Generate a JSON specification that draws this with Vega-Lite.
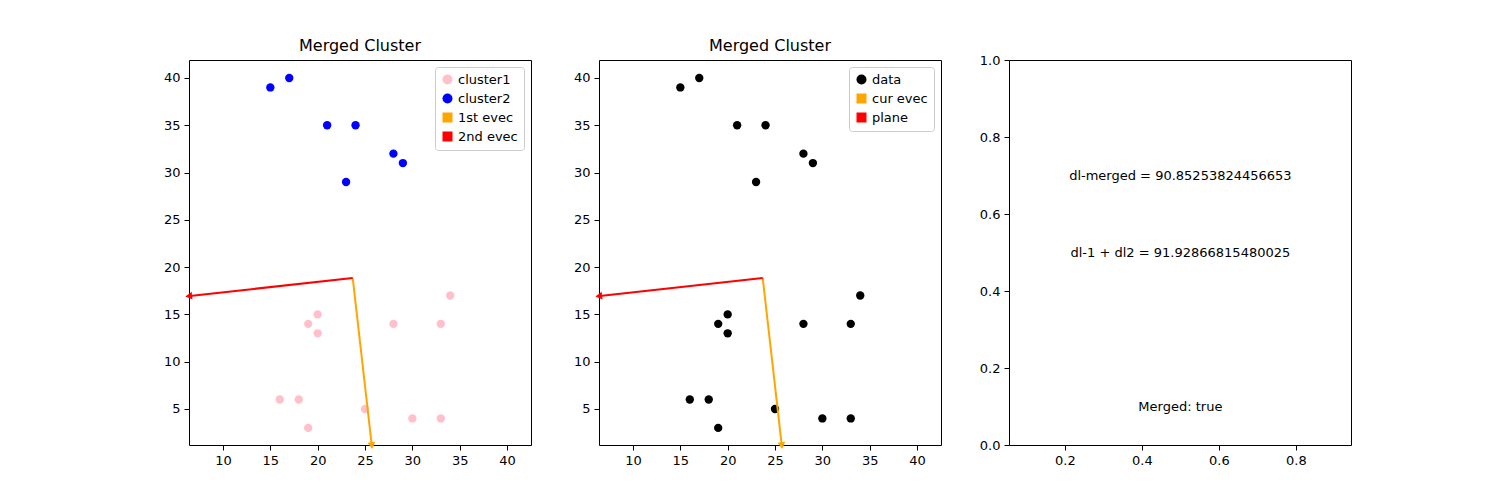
{
"$schema":"https://vega.github.io/schema/vega-lite/v6.json",
"padding":{"left":158,"top":37,"right":10,"bottom":0},
"spacing":36,
"config":{"font":"DejaVu Sans","view":{"stroke":"black","strokeWidth":1},
"axis":{"grid":false,"domain":false,"tickColor":"black","labelColor":"black","labelFontSize":13,"tickSize":5,"labelPadding":4,"title":null,"minExtent":30,"maxExtent":30},
"title":{"fontSize":16,"fontWeight":"normal","color":"black","offset":6},
"legend":{"orient":"top-right","offset":7,"fillColor":"white","strokeColor":"#cccccc","padding":6,"cornerRadius":3,"labelFontSize":13,"symbolSize":100,"title":null,"rowPadding":5}},
"datasets":{
"pts":[{"x":16,"y":6,"c":"cluster1"},{"x":18,"y":6,"c":"cluster1"},{"x":19,"y":3,"c":"cluster1"},{"x":19,"y":14,"c":"cluster1"},{"x":20,"y":15,"c":"cluster1"},{"x":20,"y":13,"c":"cluster1"},{"x":25,"y":5,"c":"cluster1"},{"x":28,"y":14,"c":"cluster1"},{"x":30,"y":4,"c":"cluster1"},{"x":33,"y":4,"c":"cluster1"},{"x":33,"y":14,"c":"cluster1"},{"x":34,"y":17,"c":"cluster1"},{"x":15,"y":39,"c":"cluster2"},{"x":17,"y":40,"c":"cluster2"},{"x":21,"y":35,"c":"cluster2"},{"x":24,"y":35,"c":"cluster2"},{"x":23,"y":29,"c":"cluster2"},{"x":28,"y":32,"c":"cluster2"},{"x":29,"y":31,"c":"cluster2"}],
"arrows":[{"x":23.7,"y":18.85,"x2":25.7,"y2":1.25,"a":"first"},{"x":23.7,"y":18.85,"x2":6.5,"y2":16.95,"a":"second"}],
"texts":[{"x":0.5,"y":0.7,"t":"dl-merged = 90.85253824456653"},{"x":0.5,"y":0.5,"t":"dl-1 + dl2 = 91.92866815480025"},{"x":0.5,"y":0.1,"t":"Merged: true"}]
},
"hconcat":[
{"width":342,"height":385,"title":"Merged Cluster","layer":[
{"data":{"name":"pts"},"mark":{"type":"point","filled":true,"opacity":1,"size":70},
"encoding":{"x":{"field":"x","type":"quantitative","scale":{"domain":[6.41,42.53],"nice":false,"zero":false},"axis":{"values":[10,15,20,25,30,35,40]}},
"y":{"field":"y","type":"quantitative","scale":{"domain":[1.19,41.9],"nice":false,"zero":false},"axis":{"values":[5,10,15,20,25,30,35,40]}},
"color":{"field":"c","type":"nominal","scale":{"domain":["cluster1","cluster2","1st evec","2nd evec"],"range":["pink","blue","orange","red"]}},
"shape":{"field":"c","type":"nominal","scale":{"domain":["cluster1","cluster2","1st evec","2nd evec"],"range":["circle","circle","square","square"]}}}},
{"data":{"name":"arrows"},"transform":[{"filter":"datum.a=='first'"}],"mark":{"type":"rule","color":"orange","strokeWidth":2},"encoding":{"x":{"field":"x","type":"quantitative"},"y":{"field":"y","type":"quantitative"},"x2":{"field":"x2"},"y2":{"field":"y2"}}},
{"data":{"name":"arrows"},"transform":[{"filter":"datum.a=='second'"}],"mark":{"type":"rule","color":"red","strokeWidth":2},"encoding":{"x":{"field":"x","type":"quantitative"},"y":{"field":"y","type":"quantitative"},"x2":{"field":"x2"},"y2":{"field":"y2"}}},
{"data":{"name":"arrows"},"transform":[{"filter":"datum.a=='first'"}],"mark":{"type":"point","shape":"triangle","filled":true,"opacity":1,"color":"orange","size":60,"angle":173.5},"encoding":{"x":{"field":"x2","type":"quantitative"},"y":{"field":"y2","type":"quantitative"}}},
{"data":{"name":"arrows"},"transform":[{"filter":"datum.a=='second'"}],"mark":{"type":"point","shape":"triangle","filled":true,"opacity":1,"color":"red","size":60,"angle":263.7},"encoding":{"x":{"field":"x2","type":"quantitative"},"y":{"field":"y2","type":"quantitative"}}}
]},
{"width":342,"height":385,"title":"Merged Cluster","layer":[
{"data":{"name":"pts"},"transform":[{"calculate":"'data'","as":"c"}],"mark":{"type":"point","filled":true,"opacity":1,"size":70},
"encoding":{"x":{"field":"x","type":"quantitative","scale":{"domain":[6.41,42.53],"nice":false,"zero":false},"axis":{"values":[10,15,20,25,30,35,40]}},
"y":{"field":"y","type":"quantitative","scale":{"domain":[1.19,41.9],"nice":false,"zero":false},"axis":{"values":[5,10,15,20,25,30,35,40]}},
"color":{"field":"c","type":"nominal","scale":{"domain":["data","cur evec","plane"],"range":["black","orange","red"]}},
"shape":{"field":"c","type":"nominal","scale":{"domain":["data","cur evec","plane"],"range":["circle","square","square"]}}}},
{"data":{"name":"arrows"},"transform":[{"filter":"datum.a=='first'"}],"mark":{"type":"rule","color":"orange","strokeWidth":2},"encoding":{"x":{"field":"x","type":"quantitative"},"y":{"field":"y","type":"quantitative"},"x2":{"field":"x2"},"y2":{"field":"y2"}}},
{"data":{"name":"arrows"},"transform":[{"filter":"datum.a=='second'"}],"mark":{"type":"rule","color":"red","strokeWidth":2},"encoding":{"x":{"field":"x","type":"quantitative"},"y":{"field":"y","type":"quantitative"},"x2":{"field":"x2"},"y2":{"field":"y2"}}},
{"data":{"name":"arrows"},"transform":[{"filter":"datum.a=='first'"}],"mark":{"type":"point","shape":"triangle","filled":true,"opacity":1,"color":"orange","size":60,"angle":173.5},"encoding":{"x":{"field":"x2","type":"quantitative"},"y":{"field":"y2","type":"quantitative"}}},
{"data":{"name":"arrows"},"transform":[{"filter":"datum.a=='second'"}],"mark":{"type":"point","shape":"triangle","filled":true,"opacity":1,"color":"red","size":60,"angle":263.7},"encoding":{"x":{"field":"x2","type":"quantitative"},"y":{"field":"y2","type":"quantitative"}}}
]},
{"width":342,"height":385,"data":{"name":"texts"},"mark":{"type":"text","fontSize":13,"color":"black"},
"encoding":{"x":{"field":"x","type":"quantitative","scale":{"domain":[0.055,0.943],"nice":false,"zero":false},"axis":{"values":[0.2,0.4,0.6,0.8],"format":".1f"}},
"y":{"field":"y","type":"quantitative","scale":{"domain":[0,1],"nice":false},"axis":{"values":[0,0.2,0.4,0.6,0.8,1],"format":".1f"}},
"text":{"field":"t"}}}
],
"resolve":{"scale":{"color":"independent","shape":"independent"}}
}
